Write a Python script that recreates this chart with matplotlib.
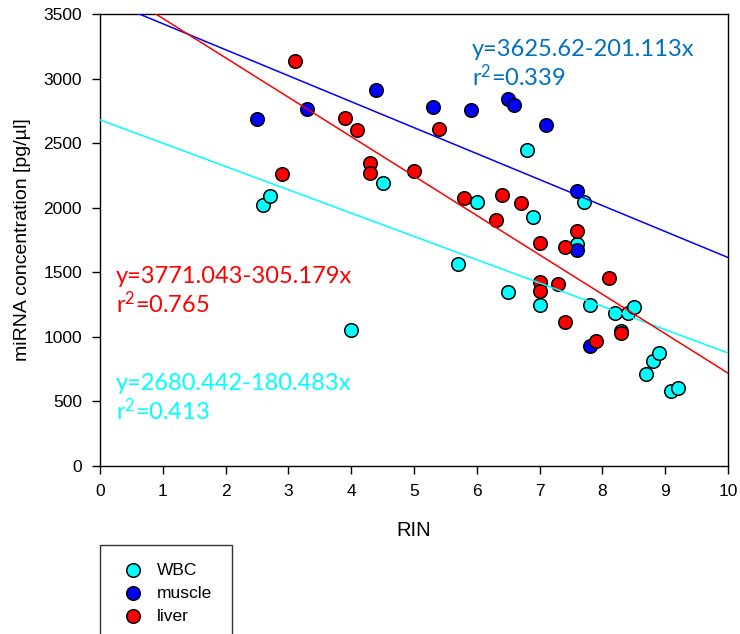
import numpy as np
import matplotlib.pyplot as plt
from matplotlib.patches import Rectangle

# WBC
wbc_rin = [2.6, 2.7, 4.0, 4.5, 5.7, 6.0, 6.5, 6.8, 6.9, 7.0, 7.6, 7.7, 7.8, 8.2, 8.4, 8.5, 8.3, 8.7, 8.8, 8.9, 9.1, 9.2]
wbc_conc = [2020, 2090, 1050, 2195, 1565, 2045, 1350, 2445, 1925, 1250, 1720, 2045, 1245, 1185, 1185, 1230, 1048, 712, 812, 873, 578, 605]

# muscle
mus_rin = [2.5, 3.3, 4.4, 5.3, 5.9, 6.5, 6.6, 7.1, 7.6, 7.6, 7.8]
mus_conc = [2687, 2762, 2915, 2777, 2760, 2842, 2795, 2643, 2128, 1675, 928]

# liver
liv_rin = [2.9, 3.1, 3.9, 4.1, 4.3, 4.3, 5.0, 5.4, 5.8, 6.3, 6.4, 6.7, 7.0, 7.0, 7.0, 7.3, 7.4, 7.4, 7.6, 7.9, 8.1, 8.3]
liv_conc = [2263, 3137, 2692, 2604, 2348, 2265, 2281, 2612, 2077, 1904, 2100, 2038, 1725, 1427, 1357, 1410, 1694, 1112, 1818, 967, 1453, 1030]

# regression coefficients (intercept, slope) as printed on the chart
fits = {
    "WBC": (2680.442, -180.483, "0.413", "y=2680.442-180.483x"),
    "muscle": (3625.62, -201.113, "0.339", "y=3625.62-201.113x"),
    "liver": (3771.043, -305.179, "0.765", "y=3771.043-305.179x"),
}

tick_font = "Liberation Sans"
eq_font = "Lato"
plt.rcParams["mathtext.fontset"] = "custom"
plt.rcParams["mathtext.rm"] = eq_font
plt.rcParams["mathtext.it"] = eq_font

W, H = 740, 634
fig = plt.figure(figsize=(W / 100, H / 100), dpi=100)
ax = fig.add_axes([100 / W, 1 - 466 / H, 628 / W, 452 / H])

ax.scatter(wbc_rin, wbc_conc, s=95, c="#00FFFF", edgecolors="black", linewidths=1.1, zorder=2, label="WBC")
ax.scatter(mus_rin, mus_conc, s=95, c="#0000FF", edgecolors="black", linewidths=1.1, zorder=2, label="muscle")
ax.scatter(liv_rin, liv_conc, s=95, c="#FF0000", edgecolors="black", linewidths=1.1, zorder=2, label="liver")

xs = np.array([0, 10])
line_cols = {"WBC": "#00FFFF", "muscle": "#0000FF", "liver": "#FF0000"}
for k in ["WBC", "muscle", "liver"]:
    b, m, r2, eq = fits[k]
    ax.plot(xs, b + m * xs, color=line_cols[k], lw=1.1, zorder=3)

ax.set_xlim(0, 10)
ax.set_ylim(0, 3500)
ax.set_xticks(range(0, 11))
ax.set_yticks(range(0, 3501, 500))
ax.tick_params(direction="out", length=6, width=1, labelsize=12.5, top=False, right=False)
ax.tick_params(axis="x", pad=7)
ax.tick_params(axis="y", pad=7)
for lab in ax.get_xticklabels() + ax.get_yticklabels():
    lab.set_family(tick_font)
for s in ax.spines.values():
    s.set_linewidth(1)

ax.set_xlabel("RIN", fontsize=14.5, family=tick_font, labelpad=16)
ax.set_ylabel("miRNA concentration [pg/µl]", fontsize=14, family=tick_font, labelpad=9)

# equations
def put(xp, yp, s, col):
    fig.text(xp / W, 1 - yp / H, s, color=col, fontsize=17, family=eq_font, va="baseline", ha="left")

put(472, 56, fits["muscle"][3], "#0070C0")
put(472, 86, "r$^\\mathrm{2}$=" + fits["muscle"][2], "#0070C0")
put(116, 283, fits["liver"][3], "#FF0000")
put(116, 313, "r$^\\mathrm{2}$=" + fits["liver"][2], "#FF0000")
put(116, 390, fits["WBC"][3], "#00FFFF")
put(116, 420, "r$^\\mathrm{2}$=" + fits["WBC"][2], "#00FFFF")

# legend box running off the bottom of the figure
fig.patches.append(Rectangle((100 / W, -0.05), 132 / W, (0.05 + 1 - 545 / H),
                             transform=fig.transFigure, fill=False, edgecolor="#333333", lw=1))
leg = fig.legend(loc="upper left", bbox_to_anchor=(114 / W, 1 - 554 / H), frameon=False,
                 prop={"family": tick_font, "size": 12.5}, handletextpad=0.75, labelspacing=0.45,
                 borderpad=0, handlelength=1.2)

fig.savefig("out.png", dpi=100)
